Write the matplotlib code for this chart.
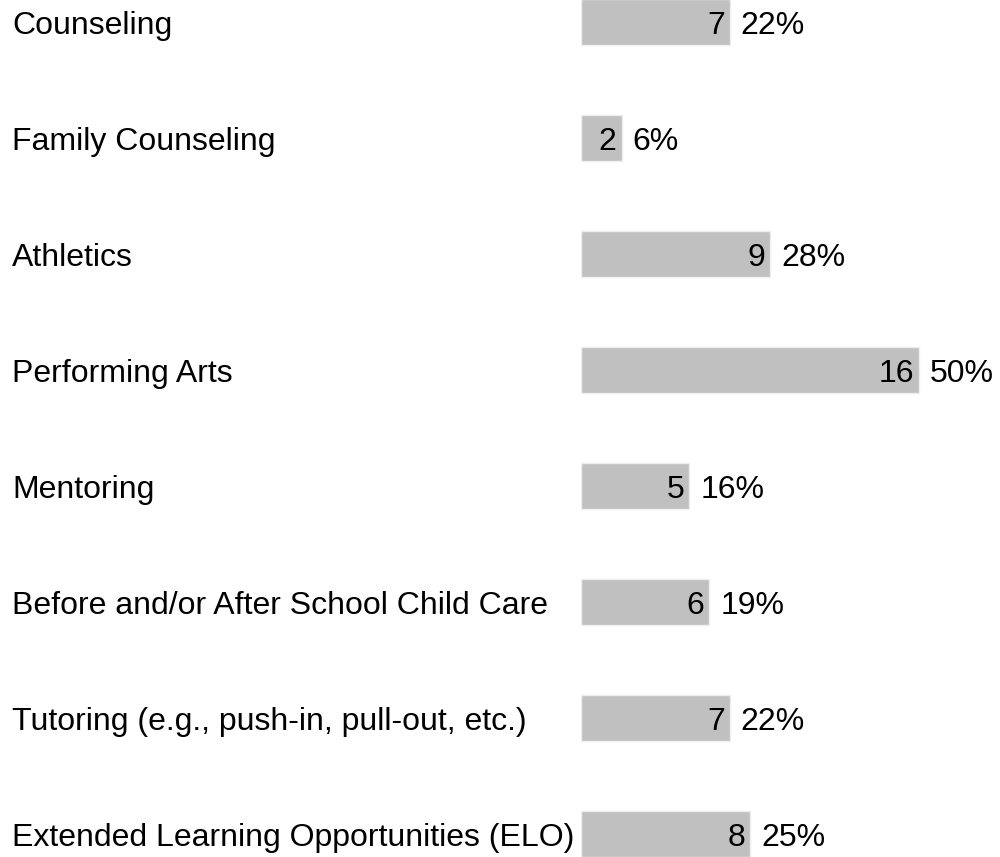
import matplotlib.pyplot as plt
from matplotlib.transforms import blended_transform_factory, offset_copy

categories = [
    "Counseling",
    "Family Counseling",
    "Athletics",
    "Performing Arts",
    "Mentoring",
    "Before and/or After School Child Care",
    "Tutoring (e.g., push-in, pull-out, etc.)",
    "Extended Learning Opportunities (ELO)",
]
counts = [7, 2, 9, 16, 5, 6, 7, 8]
percents = [22, 6, 28, 50, 16, 19, 22, 25]

plt.rcParams['font.family'] = ['Liberation Sans', 'DejaVu Sans']

fig = plt.figure(figsize=(10, 8.57), dpi=100)
ax = fig.add_axes([0.581, 0, 0.419, 1])

ypos = list(range(len(categories)))
ax.barh(ypos, percents, height=0.4, color='#c0c0c0',
        edgecolor='#eeeeee', linewidth=1)

ax.set_xlim(0, 62)
ax.set_ylim(7.2, -0.19)
ax.axis('off')

fs = 23
lab_tr = blended_transform_factory(fig.transFigure, ax.transData)
for y, name, n, p in zip(ypos, categories, counts, percents):
    fig.text(0.012, y + 0.105, name, transform=lab_tr, fontsize=fs,
             ha='left', va='baseline')
    ax.text(p, y + 0.105, str(n), fontsize=fs, ha='right', va='baseline',
            transform=offset_copy(ax.transData, fig=fig, x=-5, y=0, units='dots'))
    ax.text(p, y + 0.105, f"{p}%", fontsize=fs, ha='left', va='baseline',
            transform=offset_copy(ax.transData, fig=fig, x=11, y=0, units='dots'))

plt.savefig("out.png", dpi=100)
